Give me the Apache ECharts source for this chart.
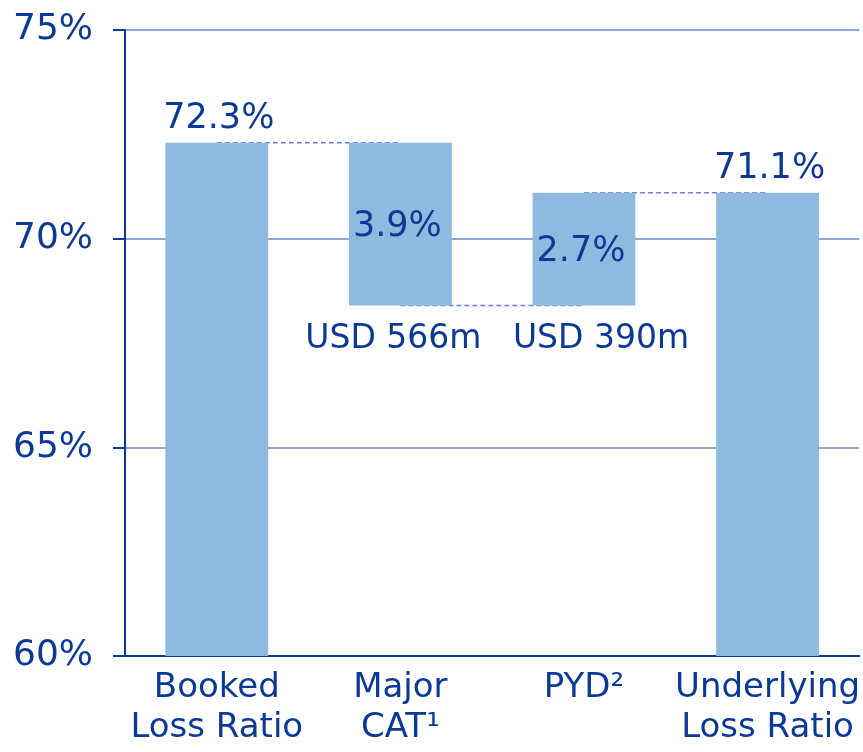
<!DOCTYPE html>
<html>
<head>
<meta charset="utf-8">
<script src="https://cdn.jsdelivr.net/npm/echarts@6/dist/echarts.min.js"></script>
<style>
  html, body { margin: 0; padding: 0; background: #fff; }
  #chart { width: 863px; height: 752px; }
</style>
</head>
<body>
<div id="chart"></div>
<script>
// waterfall: booked loss ratio -> underlying loss ratio
const categories = ['Booked\nLoss Ratio', 'Major\nCAT¹', 'PYD²', 'Underlying\nLoss Ratio'];
const barLow = [60, 68.4, 68.4, 60];
const barHigh = [72.3, 72.3, 71.1, 71.1];
const barLabels = ['72.3%', '3.9%', '2.7%', '71.1%'];
const usdLabels = ['', 'USD 566m', 'USD 390m', ''];
const yTicks = [60, 65, 70, 75];

const TEXT = '#0b3a96';
const BAR = '#8fbadf';
const GRID = '#6d88c8';
const FONT = 'DejaVu Sans';

const chart = echarts.init(document.getElementById('chart'));

const visible = barHigh.map((v, i) => +(v - barLow[i]).toFixed(1));

const option = {
  animation: false,
  grid: { left: 125, right: 3, top: 30, bottom: 96 },
  xAxis: {
    type: 'category',
    data: categories,
    axisLine: { lineStyle: { color: TEXT, width: 2 } },
    axisTick: { show: false },
    axisLabel: {
      interval: 0,
      color: TEXT,
      fontFamily: FONT,
      fontSize: 34,
      lineHeight: 40,
      margin: 12
    }
  },
  yAxis: {
    type: 'value',
    min: yTicks[0],
    max: yTicks[yTicks.length - 1],
    interval: 5,
    axisLine: { show: true, lineStyle: { color: TEXT, width: 2 } },
    axisTick: { show: true, length: 12, lineStyle: { color: TEXT, width: 2 } },
    axisLabel: {
      color: TEXT,
      fontFamily: FONT,
      fontSize: 36,
      margin: 32,
      formatter: '{value}%'
    },
    splitLine: { lineStyle: { color: GRID, width: 1.5 } }
  },
  series: [
    // connector lines between bars
    {
      type: 'line', z: 1, symbol: 'none', silent: true,
      lineStyle: { color: GRID, width: 1.5, type: [5, 3] },
      data: [barHigh[0], barHigh[1], '-', '-']
    },
    {
      type: 'line', z: 1, symbol: 'none', silent: true,
      lineStyle: { color: GRID, width: 1.5, type: [5, 3] },
      data: ['-', barLow[1], barLow[2], '-']
    },
    {
      type: 'line', z: 1, symbol: 'none', silent: true,
      lineStyle: { color: GRID, width: 1.5, type: [5, 3] },
      data: ['-', '-', barHigh[2], barHigh[3]]
    },
    // invisible base, carries the USD labels under the floating bars
    {
      type: 'bar',
      stack: 'wf',
      z: 3,
      barWidth: '56%',
      itemStyle: { color: 'transparent' },
      data: barLow.map((v, i) => ({
        value: v,
        label: {
          show: usdLabels[i] !== '',
          position: 'insideTop',
          distance: 17,
          offset: [i === 1 ? -7 : 17, 0],
          formatter: usdLabels[i],
          color: TEXT,
          fontFamily: FONT,
          fontSize: 33
        }
      }))
    },
    {
      type: 'bar',
      stack: 'wf',
      z: 3,
      barWidth: '56%',
      itemStyle: { color: BAR },
      data: visible.map((v, i) => ({
        value: v,
        label: {
          show: true,
          position: (i === 0 || i === 3) ? 'top' : 'inside',
          distance: 6,
          offset: (i === 0 || i === 3) ? [2, 0] : [-3, 3],
          formatter: barLabels[i],
          color: TEXT,
          fontFamily: FONT,
          fontSize: 35
        }
      }))
    }
  ]
};

chart.setOption(option);
window.addEventListener('resize', () => chart.resize());
</script>
</body>
</html>
